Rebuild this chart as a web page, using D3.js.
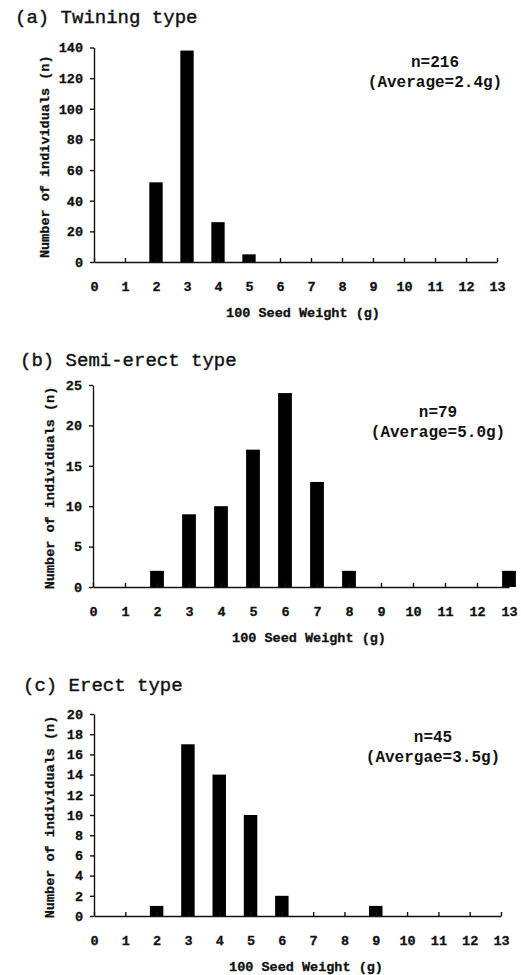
<!DOCTYPE html>
<html>
<head>
<meta charset="utf-8">
<script src="https://cdn.jsdelivr.net/npm/d3@7"></script>
<style>
  body { margin: 0; background: #fff; }
  svg text { font-family: "Liberation Mono", "Courier New", monospace; fill: #111; }
  .axis path, .axis line { stroke: #111; stroke-width: 1.4; }
  .axis text { font-size: 13.5px; font-weight: bold; stroke: #111; stroke-width: 0.3; }
  .lab { stroke: #111; stroke-width: 0.3; }
</style>
</head>
<body>
<div id="chart"></div>
<script>
// seed weight classes (g)
var weights = [0, 1, 2, 3, 4, 5, 6, 7, 8, 9, 10, 11, 12, 13];

// number of individuals per class
var twining   = [0, 0, 52, 138, 26, 5, 0, 0, 0, 0, 0, 0, 0, 0];
var semiErect = [0, 0, 2, 9, 10, 17, 24, 13, 2, 0, 0, 0, 0, 2];
var erect     = [0, 0, 1, 17, 14, 10, 2, 0, 0, 1, 0, 0, 0, 0];

var titles = ["(a) Twining type", "(b) Semi-erect type", "(c) Erect type"];
var notesN = ["n=216", "n=79", "n=45"];
var notesAvg = ["(Average=2.4g)", "(Average=5.0g)", "(Avergae=3.5g)"];
var yMax = [140, 25, 20];
var yStep = [20, 5, 2];

var xLabel = "100 Seed Weight (g)";
var yLabel = "Number of individuals (n)";

var svg = d3.select("#chart").append("svg")
    .attr("width", 521)
    .attr("height", 975);

// layout of each panel (left, right, top, bottom of plot area)
var panels = [
  {data: twining,   x0: 94, x1: 497, top: 47.5, bottom: 262, titleX: 15, titleY: 23, noteX: 435, noteY: 67, xlabX: 303, ylabX: 45},
  {data: semiErect, x0: 93, x1: 509, top: 385,  bottom: 587, titleX: 20, titleY: 366, noteX: 438, noteY: 417, xlabX: 309, ylabX: 50},
  {data: erect,     x0: 94, x1: 501, top: 714,  bottom: 916, titleX: 23, titleY: 691, noteX: 433, noteY: 742, xlabX: 306, ylabX: 50}
];

panels.forEach(function(p, i) {
  var x = d3.scaleLinear().domain([0, 13]).range([p.x0, p.x1]);
  var y = d3.scaleLinear().domain([0, yMax[i]]).range([p.bottom, p.top]);
  var bw = (x(1) - x(0)) * 0.43;

  var g = svg.append("g");

  // title
  g.append("text")
      .attr("x", p.titleX)
      .attr("y", p.titleY)
      .attr("font-size", "19px")
      .style("stroke", "#111")
      .style("stroke-width", 0.4)
      .text(titles[i]);

  // bars
  g.selectAll(".bar")
      .data(weights.map(function(w, j) { return [w, p.data[j]]; }).filter(function(d) { return d[1] > 0; }))
    .enter().append("rect")
      .attr("class", "bar")
      .attr("x", function(d) { return x(d[0]) - bw / 2; })
      .attr("width", bw)
      .attr("y", function(d) { return y(d[1]); })
      .attr("height", function(d) { return p.bottom - y(d[1]); })
      .attr("fill", "#000");

  // x axis, ticks pointing up
  g.append("g")
      .attr("class", "axis")
      .attr("transform", "translate(0," + p.bottom + ")")
      .call(d3.axisBottom(x).tickValues(weights).tickFormat(d3.format("d"))
        .tickSizeInner(-4).tickSizeOuter(0).tickPadding(19));

  // y axis
  g.append("g")
      .attr("class", "axis")
      .attr("transform", "translate(" + p.x0 + ",0)")
      .call(d3.axisLeft(y).tickValues(d3.range(0, yMax[i] + 0.1, yStep[i]))
        .tickSizeInner(4).tickSizeOuter(0).tickPadding(7));

  // axis titles
  g.append("text")
      .attr("class", "lab")
      .attr("x", p.xlabX)
      .attr("y", p.bottom + 55)
      .attr("text-anchor", "middle")
      .attr("font-size", "13.5px")
      .attr("font-weight", "bold")
      .text(xLabel);

  g.append("text")
      .attr("class", "lab")
      .attr("transform", "translate(" + (p.ylabX + 4) + "," + ((p.top + p.bottom) / 2 + 2) + ") rotate(-90)")
      .attr("text-anchor", "middle")
      .attr("font-size", "13.5px")
      .attr("font-weight", "bold")
      .text(yLabel);

  // n and average note
  g.append("text")
      .attr("x", p.noteX)
      .attr("y", p.noteY)
      .attr("text-anchor", "middle")
      .attr("font-size", "16px")
      .attr("font-weight", "bold")
      .text(notesN[i]);
  g.append("text")
      .attr("x", p.noteX)
      .attr("y", p.noteY + 20)
      .attr("text-anchor", "middle")
      .attr("font-size", "16px")
      .attr("font-weight", "bold")
      .text(notesAvg[i]);
});
</script>
</body>
</html>
